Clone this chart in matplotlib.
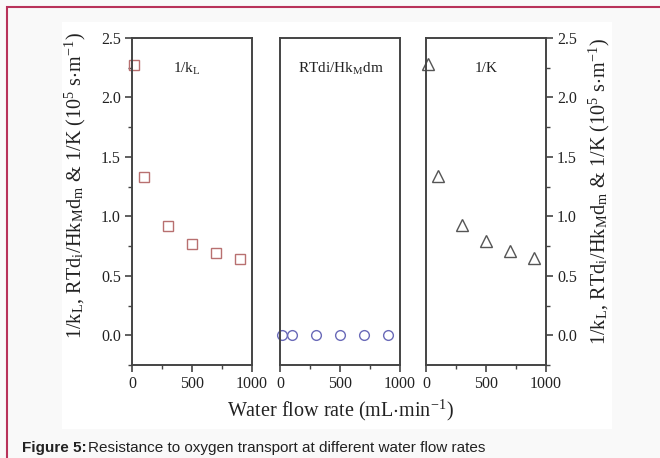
import matplotlib.pyplot as plt
from matplotlib.patches import Rectangle
from matplotlib.ticker import MultipleLocator

plt.rcParams['font.family'] = ['Liberation Serif', 'DejaVu Serif']
plt.rcParams['mathtext.fontset'] = 'stix'

# data
flow = [15, 100, 300, 500, 700, 900]
inv_kL = [2.27, 1.33, 0.92, 0.77, 0.69, 0.64]
rtdi = [0, 0, 0, 0, 0, 0]
inv_K = [2.28, 1.34, 0.93, 0.79, 0.71, 0.65]

panel_labels = ["1/k$_\\mathregular{L}$", "RTdi/Hk$_\\mathregular{M}$dm", "1/K"]
ylabel = ("1/k$_\\mathregular{L}$, RTd$_\\mathregular{i}$/Hk$_\\mathregular{M}$d$_\\mathregular{m}$"
          " & 1/K (10$^\\mathregular{5}$ s$\\cdot$m$^\\mathregular{-1}$)")

fig = plt.figure(figsize=(6.6, 4.58), dpi=100)
fig.patch.set_facecolor('#f9f9f9')

# white plot area and red frame
fig.add_artist(Rectangle((62/660, 1-429/458), 550/660, 407/458, transform=fig.transFigure,
                         facecolor='white', edgecolor='none', zorder=0))
fig.add_artist(Rectangle((7/660, -0.1), 1.2, 1-7/458+0.1, transform=fig.transFigure,
                         facecolor='none', edgecolor='#b8325a', lw=1.5, zorder=1))

lefts = [132, 280, 426]
series = [inv_kL, rtdi, inv_K]
markers = ['s', 'o', '^']
msizes = [7, 7, 8]
colors = ['#b87070', '#6a6ab8', '#555555']
text_x = [187, 341, 486]

axes = []
for i in range(3):
    ax = fig.add_axes([lefts[i]/660, 1-365/458, 120/660, 327/458])
    ax.plot(flow, series[i], linestyle='none', marker=markers[i], markersize=msizes[i],
            markerfacecolor='none', markeredgecolor=colors[i], markeredgewidth=1.0,
            clip_on=False)
    ax.set_xlim(0, 1000)
    ax.set_ylim(-0.25, 2.5)
    ax.xaxis.set_major_locator(MultipleLocator(500))
    ax.xaxis.set_minor_locator(MultipleLocator(250))
    ax.yaxis.set_major_locator(MultipleLocator(0.5))
    ax.yaxis.set_minor_locator(MultipleLocator(0.25))
    ax.yaxis.set_major_formatter(plt.FormatStrFormatter('%.1f'))
    for s in ax.spines.values():
        s.set_color('#444444')
        s.set_linewidth(1.4)
    ax.tick_params(which='both', direction='out', color='#444444', labelsize=11.5,
                   labelcolor='#222222')
    ax.tick_params(which='major', length=5, width=1.2, pad=3)
    ax.tick_params(which='minor', length=3, width=1.0)
    ax.tick_params(axis='y', which='both', left=(i == 0), labelleft=(i == 0),
                   right=(i == 2), labelright=(i == 2))
    ax.text(text_x[i]/660, 1-69/458, panel_labels[i], transform=fig.transFigure,
            ha='center', va='center', fontsize=11, color='#222222')
    axes.append(ax)

axes[0].set_ylabel(ylabel, fontsize=14.5, color='#222222')
axes[0].yaxis.set_label_coords(-0.37, 0.55)
axes[2].yaxis.set_label_position('right')
axes[2].set_ylabel(ylabel, fontsize=14.5, color='#222222', rotation=90)
axes[2].yaxis.set_label_coords(1.34, 0.53)

fig.text(340/660, 1-410/458, "Water flow rate (mL$\\cdot$min$^\\mathregular{-1}$)",
         ha='center', va='center', fontsize=14.5, color='#222222')

fig.text(22/660, 1-448/458, "Figure 5:", fontsize=11, fontweight='bold',
         family='Liberation Sans', ha='left', va='center', color='#222222')
fig.text(88/660, 1-448/458, "Resistance to oxygen transport at different water flow rates",
         fontsize=11, family='Liberation Sans', ha='left', va='center', color='#222222')

fig.savefig('out.png', dpi=100, facecolor=fig.get_facecolor())
